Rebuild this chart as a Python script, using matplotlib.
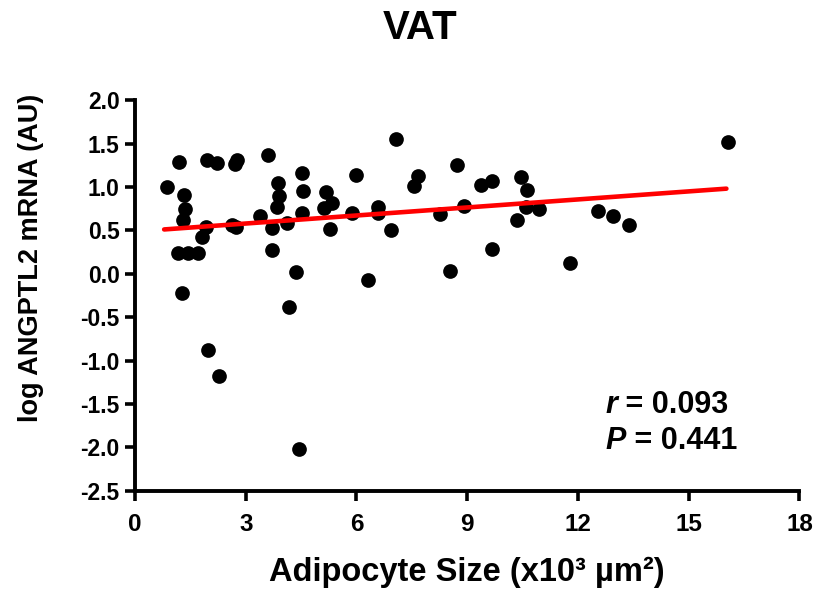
import matplotlib
matplotlib.use('Agg')
import matplotlib.pyplot as plt

# Adipocyte size (x10^3 um^2) and log ANGPTL2 mRNA
size = [0.86, 1.20, 1.16, 1.33, 1.36, 1.31, 1.27, 1.44, 1.72, 1.81,
        1.92, 1.96, 2.23, 1.99, 2.28, 2.71, 2.76, 2.62, 2.74, 3.39,
        3.60, 3.72, 3.72, 3.88, 3.91, 3.86, 4.11, 4.18, 4.36, 4.44,
        4.53, 4.54, 4.53, 5.17, 5.33, 5.12, 5.28, 5.87, 5.99, 6.30,
        6.59, 6.58, 6.94, 7.07, 7.66, 7.56, 8.25, 8.54, 8.73, 8.90,
        9.38, 9.67, 9.67, 10.34, 10.46, 10.62, 10.60, 10.95, 11.79, 12.54,
        12.96, 13.39, 16.05]
mrna = [1.00, 1.29, 0.24, 0.91, 0.75, 0.62, -0.22, 0.24, 0.24, 0.42,
        0.54, 1.31, 1.27, -0.88, -1.18, 1.26, 1.31, 0.56, 0.54, 0.66,
        1.37, 0.27, 0.53, 1.04, 0.90, 0.77, 0.58, -0.38, 0.02, -2.02,
        1.16, 0.95, 0.70, 0.94, 0.82, 0.76, 0.51, 0.70, 1.14, -0.07,
        0.77, 0.70, 0.50, 1.55, 1.13, 1.01, 0.69, 0.03, 1.25, 0.78,
        1.02, 1.07, 0.29, 0.62, 1.11, 0.97, 0.77, 0.75, 0.12, 0.72,
        0.67, 0.56, 1.52]

# regression line end points
fit_x = [0.79, 16.02]
fit_y = [0.51, 0.98]

r_text = '0.093'
p_text = '0.441'

xticks = [0, 3, 6, 9, 12, 15, 18]
yticks = [2.0, 1.5, 1.0, 0.5, 0.0, -0.5, -1.0, -1.5, -2.0, -2.5]

arial = 'Liberation Sans'

fig = plt.figure(figsize=(8.2, 5.96), dpi=100)
ax = fig.add_axes([0.1646, 0.1767, 0.8104, 0.6553])

ax.scatter(size, mrna, s=112, color='black', zorder=3, linewidths=0)
ax.plot(fit_x, fit_y, color='#ff0000', lw=3.3, zorder=4, solid_capstyle='round')

ax.set_xlim(0, 18)
ax.set_ylim(-2.5, 2.0)
ax.set_xticks(xticks)
ax.set_yticks(yticks)
ax.set_xticklabels([str(t) for t in xticks], fontfamily=arial, fontweight='bold', fontsize=17.5)
ax.set_yticklabels(['%.1f' % t for t in yticks], fontfamily=arial, fontweight='bold', fontsize=16.5)

for s in ['top', 'right']:
    ax.spines[s].set_visible(False)
for s in ['left', 'bottom']:
    ax.spines[s].set_linewidth(2.8)
ax.tick_params(axis='both', direction='out', length=7, width=2.6, color='black')
ax.tick_params(axis='x', pad=9)
ax.tick_params(axis='y', pad=4)

ax.set_xlabel('Adipocyte Size (x10³ µm²)', fontfamily=arial, fontweight='bold',
              fontsize=23.5, labelpad=15)
fig.text(31 / 820, 1 - 258 / 596, 'log ANGPTL2 mRNA (AU)', rotation=90, ha='center', va='center',
         fontfamily=arial, fontweight='bold', fontsize=19.5)
fig.text(0.512, 0.953, 'VAT', ha='center', va='center', fontfamily=arial,
         fontweight='bold', fontsize=29)

# r and P annotation (italic letter + bold value)
t1 = ax.text(12.74, -1.51, 'r', fontfamily=arial, fontweight='bold', fontstyle='italic',
             fontsize=22, va='center', ha='left')
ax.annotate(' = ' + r_text, xy=(1, 0), xycoords=t1, va='bottom', ha='left',
            fontfamily=arial, fontweight='bold', fontsize=22)
t2 = ax.text(12.74, -1.93, 'P', fontfamily=arial, fontweight='bold', fontstyle='italic',
             fontsize=22, va='center', ha='left')
ax.annotate(' = ' + p_text, xy=(1, 0), xycoords=t2, va='bottom', ha='left',
            fontfamily=arial, fontweight='bold', fontsize=22)

fig.savefig('out.png', dpi=100)
